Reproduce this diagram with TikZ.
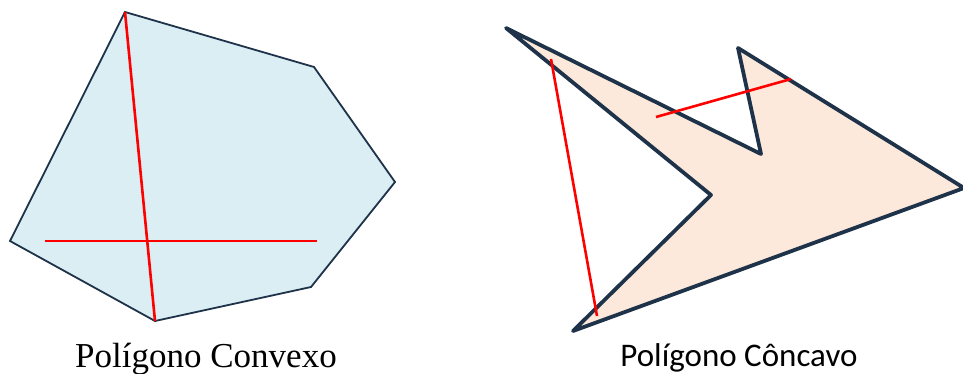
\documentclass[tikz,border=0pt]{standalone}
\usepackage{fontspec}
\setmainfont{Liberation Serif}
\newfontfamily\calib{Carlito}
\definecolor{edgeNavy}{HTML}{1E3349}
\definecolor{convFill}{HTML}{DAEEF3}
\definecolor{concFill}{HTML}{FCE9DB}
\definecolor{diagRed}{HTML}{FF0000}
\tikzset{
  convexpoly/.style={draw=edgeNavy, fill=convFill, line width=1.8pt, line join=miter},
  concavepoly/.style={draw=edgeNavy, fill=concFill, line width=3.8pt, line join=round},
  redseg/.style={draw=diagRed, line width=2.6pt},
  caption/.style={anchor=base, inner sep=0pt}
}
\begin{document}
\begin{tikzpicture}[x=1pt,y=-1pt]
\useasboundingbox (0,0) rectangle (963,374);
% convex polygon
\coordinate (c1) at (125,12);
\coordinate (c2) at (314,67);
\coordinate (c3) at (395,182);
\coordinate (c4) at (311,287);
\coordinate (c5) at (155,321);
\coordinate (c6) at (10,241);
\draw[convexpoly] (c1) -- (c2) -- (c3) -- (c4) -- (c5) -- (c6) -- cycle;
\coordinate (h1) at (45,241);
\coordinate (h2) at (317,241);
\draw[redseg] (c1) -- (c5);
\draw[redseg] (h1) -- (h2);
% concave polygon
\coordinate (k1) at (506,28);
\coordinate (k2) at (761,154);
\coordinate (k3) at (738,48);
\coordinate (k4) at (964,188);
\coordinate (k5) at (573,331);
\coordinate (k6) at (711,195);
\draw[concavepoly] (k1) -- (k2) -- (k3) -- (k4) -- (k5) -- (k6) -- cycle;
\coordinate (r1) at (551,59);
\coordinate (r2) at (597,316);
\coordinate (r3) at (656,117);
\coordinate (r4) at (791,79);
\draw[redseg] (r1) -- (r2);
\draw[redseg] (r3) -- (r4);
% captions
\node[caption, font=\fontsize{35}{40}\selectfont] (capL) at (206,367) {Polígono Convexo};
\node[caption, font=\calib\fontsize{33}{38}\selectfont] (capR) at (739,366) {Polígono Côncavo};
\end{tikzpicture}
\end{document}
